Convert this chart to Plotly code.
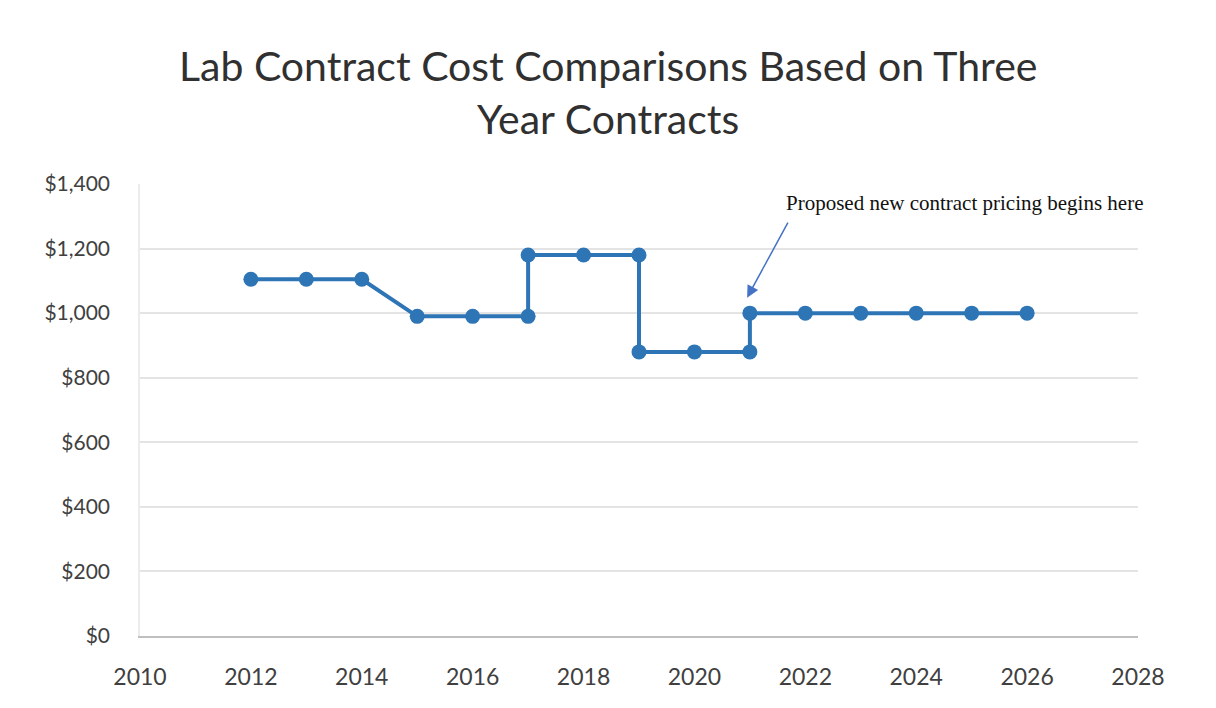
import plotly.graph_objects as go

# Annual lab contract cost; repeated years mark the step between contracts
years = [2012, 2013, 2014, 2015, 2016, 2017, 2017, 2018, 2019, 2019, 2020, 2021, 2021, 2022, 2023, 2024, 2025, 2026]
costs = [1105, 1105, 1105, 990, 990, 990, 1180, 1180, 1180, 880, 880, 880, 1000, 1000, 1000, 1000, 1000, 1000]

x_ticks = [2010, 2012, 2014, 2016, 2018, 2020, 2022, 2024, 2026, 2028]
y_ticks = [0, 200, 400, 600, 800, 1000, 1200, 1400]
y_labels = ["$" + format(v, ",") for v in y_ticks]

title_lines = ["Lab Contract Cost Comparisons Based on Three", "Year Contracts"]
note_text = "Proposed new contract pricing begins here"

line_color = "#2E75B6"
text_color = "#404040"

fig = go.Figure()
fig.add_trace(go.Scatter(
    x=years, y=costs, mode="lines+markers",
    line=dict(color=line_color, width=4),
    marker=dict(color=line_color, size=15),
    showlegend=False, hoverinfo="x+y",
))

# arrow pointing at the start of the new pricing
fig.add_annotation(
    x=2020.95, y=1048, ax=2021.7, ay=1285,
    xref="x", yref="y", axref="x", ayref="y",
    text="", showarrow=True, arrowhead=2, arrowsize=1.6, arrowwidth=1.5,
    arrowcolor="#4472C4",
)
fig.add_annotation(
    x=2021.62, y=1342, xref="x", yref="y",
    text=note_text, showarrow=False, xanchor="left", yanchor="middle",
    font=dict(family="Liberation Serif", size=21, color="#111111"),
)

# two-line chart title, centred on the page (paper coords measured from plot area)
plot_left, plot_right = 140, 1138
plot_top, plot_bottom = 184, 636
title_x = (608 - plot_left) / (plot_right - plot_left)
for line, ypix in zip(title_lines, [65, 118]):
    fig.add_annotation(
        x=title_x, y=(plot_bottom - ypix) / (plot_bottom - plot_top),
        xref="paper", yref="paper",
        xanchor="center", yanchor="middle", showarrow=False, text=line,
        font=dict(family="Lato", size=41, color="#303030"),
    )

fig.update_layout(
    width=1216, height=708,
    margin=dict(l=plot_left, r=1216 - plot_right, t=plot_top, b=708 - plot_bottom),
    paper_bgcolor="white", plot_bgcolor="white",
    xaxis=dict(
        range=[2010, 2028], tickvals=x_ticks, ticktext=[str(v) for v in x_ticks],
        showgrid=False, zeroline=False, showline=True, linecolor="#bfbfbf", linewidth=1.5,
        ticks="", ticklabelstandoff=20,
        tickfont=dict(family="Lato", size=23, color=text_color),
    ),
    yaxis=dict(
        range=[0, 1400], tickvals=y_ticks, ticktext=y_labels,
        showgrid=True, gridcolor="#e4e4e4", gridwidth=1.5, zeroline=False,
        showline=True, linecolor="#ececec", linewidth=1.5, ticks="", ticklabelstandoff=24,
        tickfont=dict(family="Lato", size=21, color=text_color),
    ),
)

fig.write_html("out.html")
